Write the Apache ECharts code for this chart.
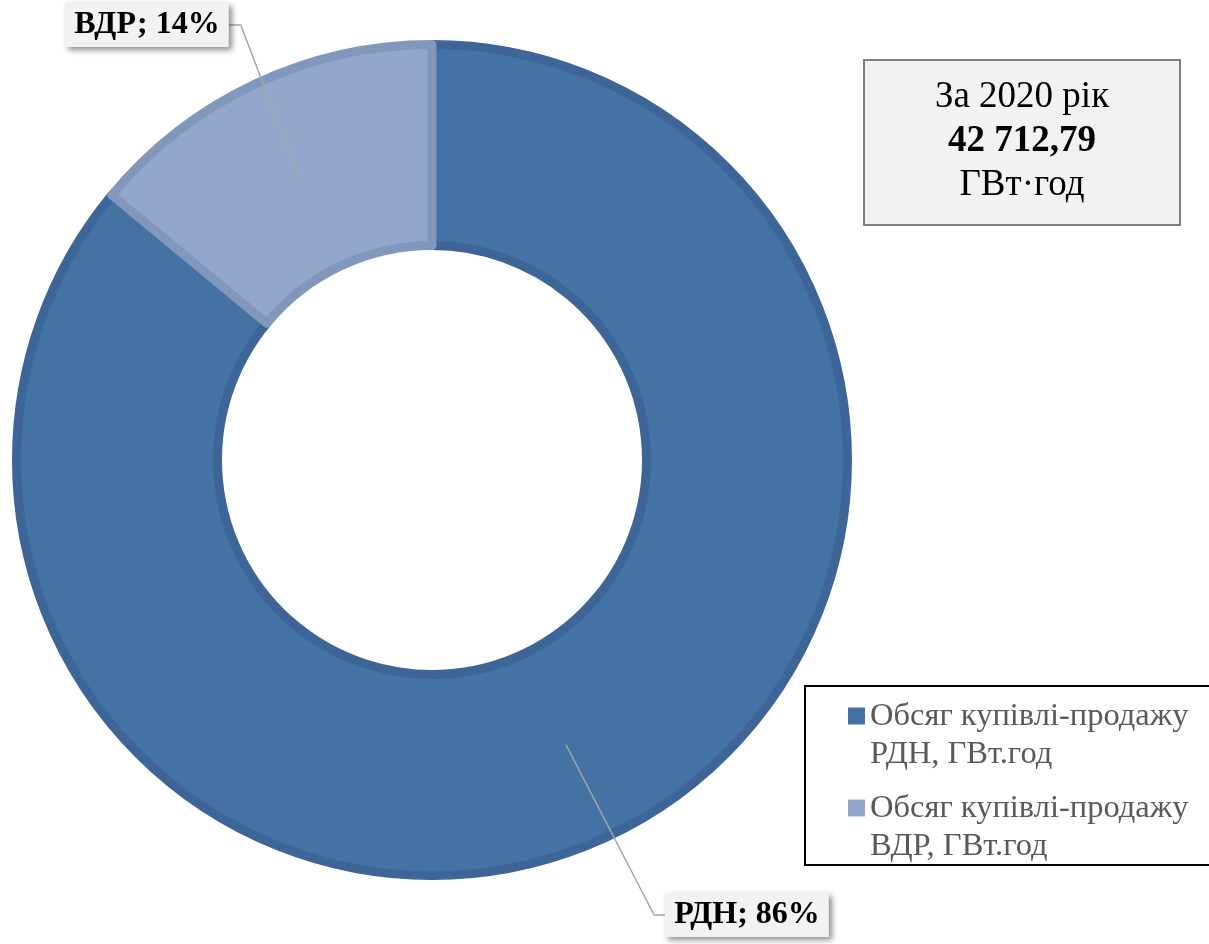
<!DOCTYPE html>
<html><head><meta charset="utf-8">
<script src="https://cdn.jsdelivr.net/npm/echarts@6/dist/echarts.min.js"></script>
<style>html,body{margin:0;padding:0;background:#fff}#c{width:1209px;height:944px}</style>
</head><body><div id="c"></div>
<script>
const categories = ['Обсяг купівлі-продажу\nРДН, ГВт.год', 'Обсяг купівлі-продажу\nВДР, ГВт.год'];
const shortNames = ['РДН', 'ВДР'];
const values = [36733.0, 5979.79];
const totalLines = ['За 2020 рік', '42 712,79', 'ГВт·год'];

const FONT = 'Liberation Serif';
const fills = ['#4472a4', '#93a7cc'];
const borders = ['#3d6597', '#8297bc'];
const labelPos = [[747, 915], [147, 25]];
const CX = 432, CY = 460;

const chart = echarts.init(document.getElementById('c'));
chart.setOption({
  animation: false,
  color: fills,
  legend: {
    orient: 'vertical', left: 805, top: 686,
    data: categories,
    itemWidth: 17, itemHeight: 76, itemGap: 16,
    icon: 'path://M0,0L17,0M0,10.5H17V27.5H0ZM0,76L17,76',
    padding: [11, 40, 0, 43],
    borderColor: '#000', borderWidth: 2,
    selectedMode: false,
    itemStyle: { borderWidth: 0 },
    textStyle: { fontFamily: FONT, fontSize: 32.5, lineHeight: 38, color: '#595959' }
  },
  graphic: [
    { type: 'rect', shape: { x: 864, y: 60, width: 316, height: 165 },
      style: { fill: '#f2f2f2', stroke: '#7f7f7f', lineWidth: 2 } },
    { type: 'text', x: 1022, y: 141,
      style: {
        text: '{a|' + totalLines[0] + '}\n{b|' + totalLines[1] + '}\n{a|' + totalLines[2] + '}',
        align: 'center', verticalAlign: 'middle',
        rich: {
          a: { fontFamily: FONT, fontSize: 37, lineHeight: 44, fill: '#000', align: 'center' },
          b: { fontFamily: FONT, fontSize: 37, lineHeight: 44, fill: '#000', fontWeight: 'bold', align: 'center' }
        }
      } }
  ],
  series: [
    {
      type: 'pie', center: [CX, CY], radius: [214.5, 415.5],
      startAngle: 90, clockwise: true, silent: true, z: 2,
      label: { show: false }, labelLine: { show: false },
      data: values.map((v, i) => ({
        name: categories[i], value: v,
        itemStyle: { color: fills[i], borderColor: borders[i], borderWidth: 9 }
      }))
    },
    {
      type: 'pie', center: [CX, CY], radius: [0, 315],
      startAngle: 90, clockwise: true, silent: true, z: 5,
      itemStyle: { color: 'rgba(0,0,0,0)', borderWidth: 0 },
      emphasis: { disabled: true },
      label: {
        show: true, position: 'outside',
        formatter: p => shortNames[p.dataIndex] + '; ' + Math.round(p.percent) + '%',
        fontFamily: FONT, fontSize: 32, fontWeight: 'bold', color: '#000',
        backgroundColor: '#f2f2f2', padding: [7, 9, 5, 9],
        shadowBlur: 6, shadowColor: 'rgba(0,0,0,0.45)', shadowOffsetX: 3, shadowOffsetY: 3
      },
      labelLine: { show: true, length: 10, length2: 10, lineStyle: { color: '#a6a6a6', width: 1.5 } },
      labelLayout: function (p) {
        const i = p.dataIndex;
        const pos = labelPos[i];
        const half = p.labelRect.width / 2;
        const a = p.labelLinePoints ? p.labelLinePoints[0] : [CX, CY];
        let pts;
        if (i === 0) {
          const ex = pos[0] - half;
          pts = [a, [ex - 11, pos[1]], [ex, pos[1]]];
        } else {
          const ex = pos[0] + half;
          pts = [a, [ex + 12, pos[1]], [ex, pos[1]]];
        }
        return { x: pos[0], y: pos[1], align: 'center', verticalAlign: 'middle', labelLinePoints: pts };
      },
      data: values.map((v, i) => ({ name: categories[i], value: v }))
    }
  ]
});
</script>
</body></html>
